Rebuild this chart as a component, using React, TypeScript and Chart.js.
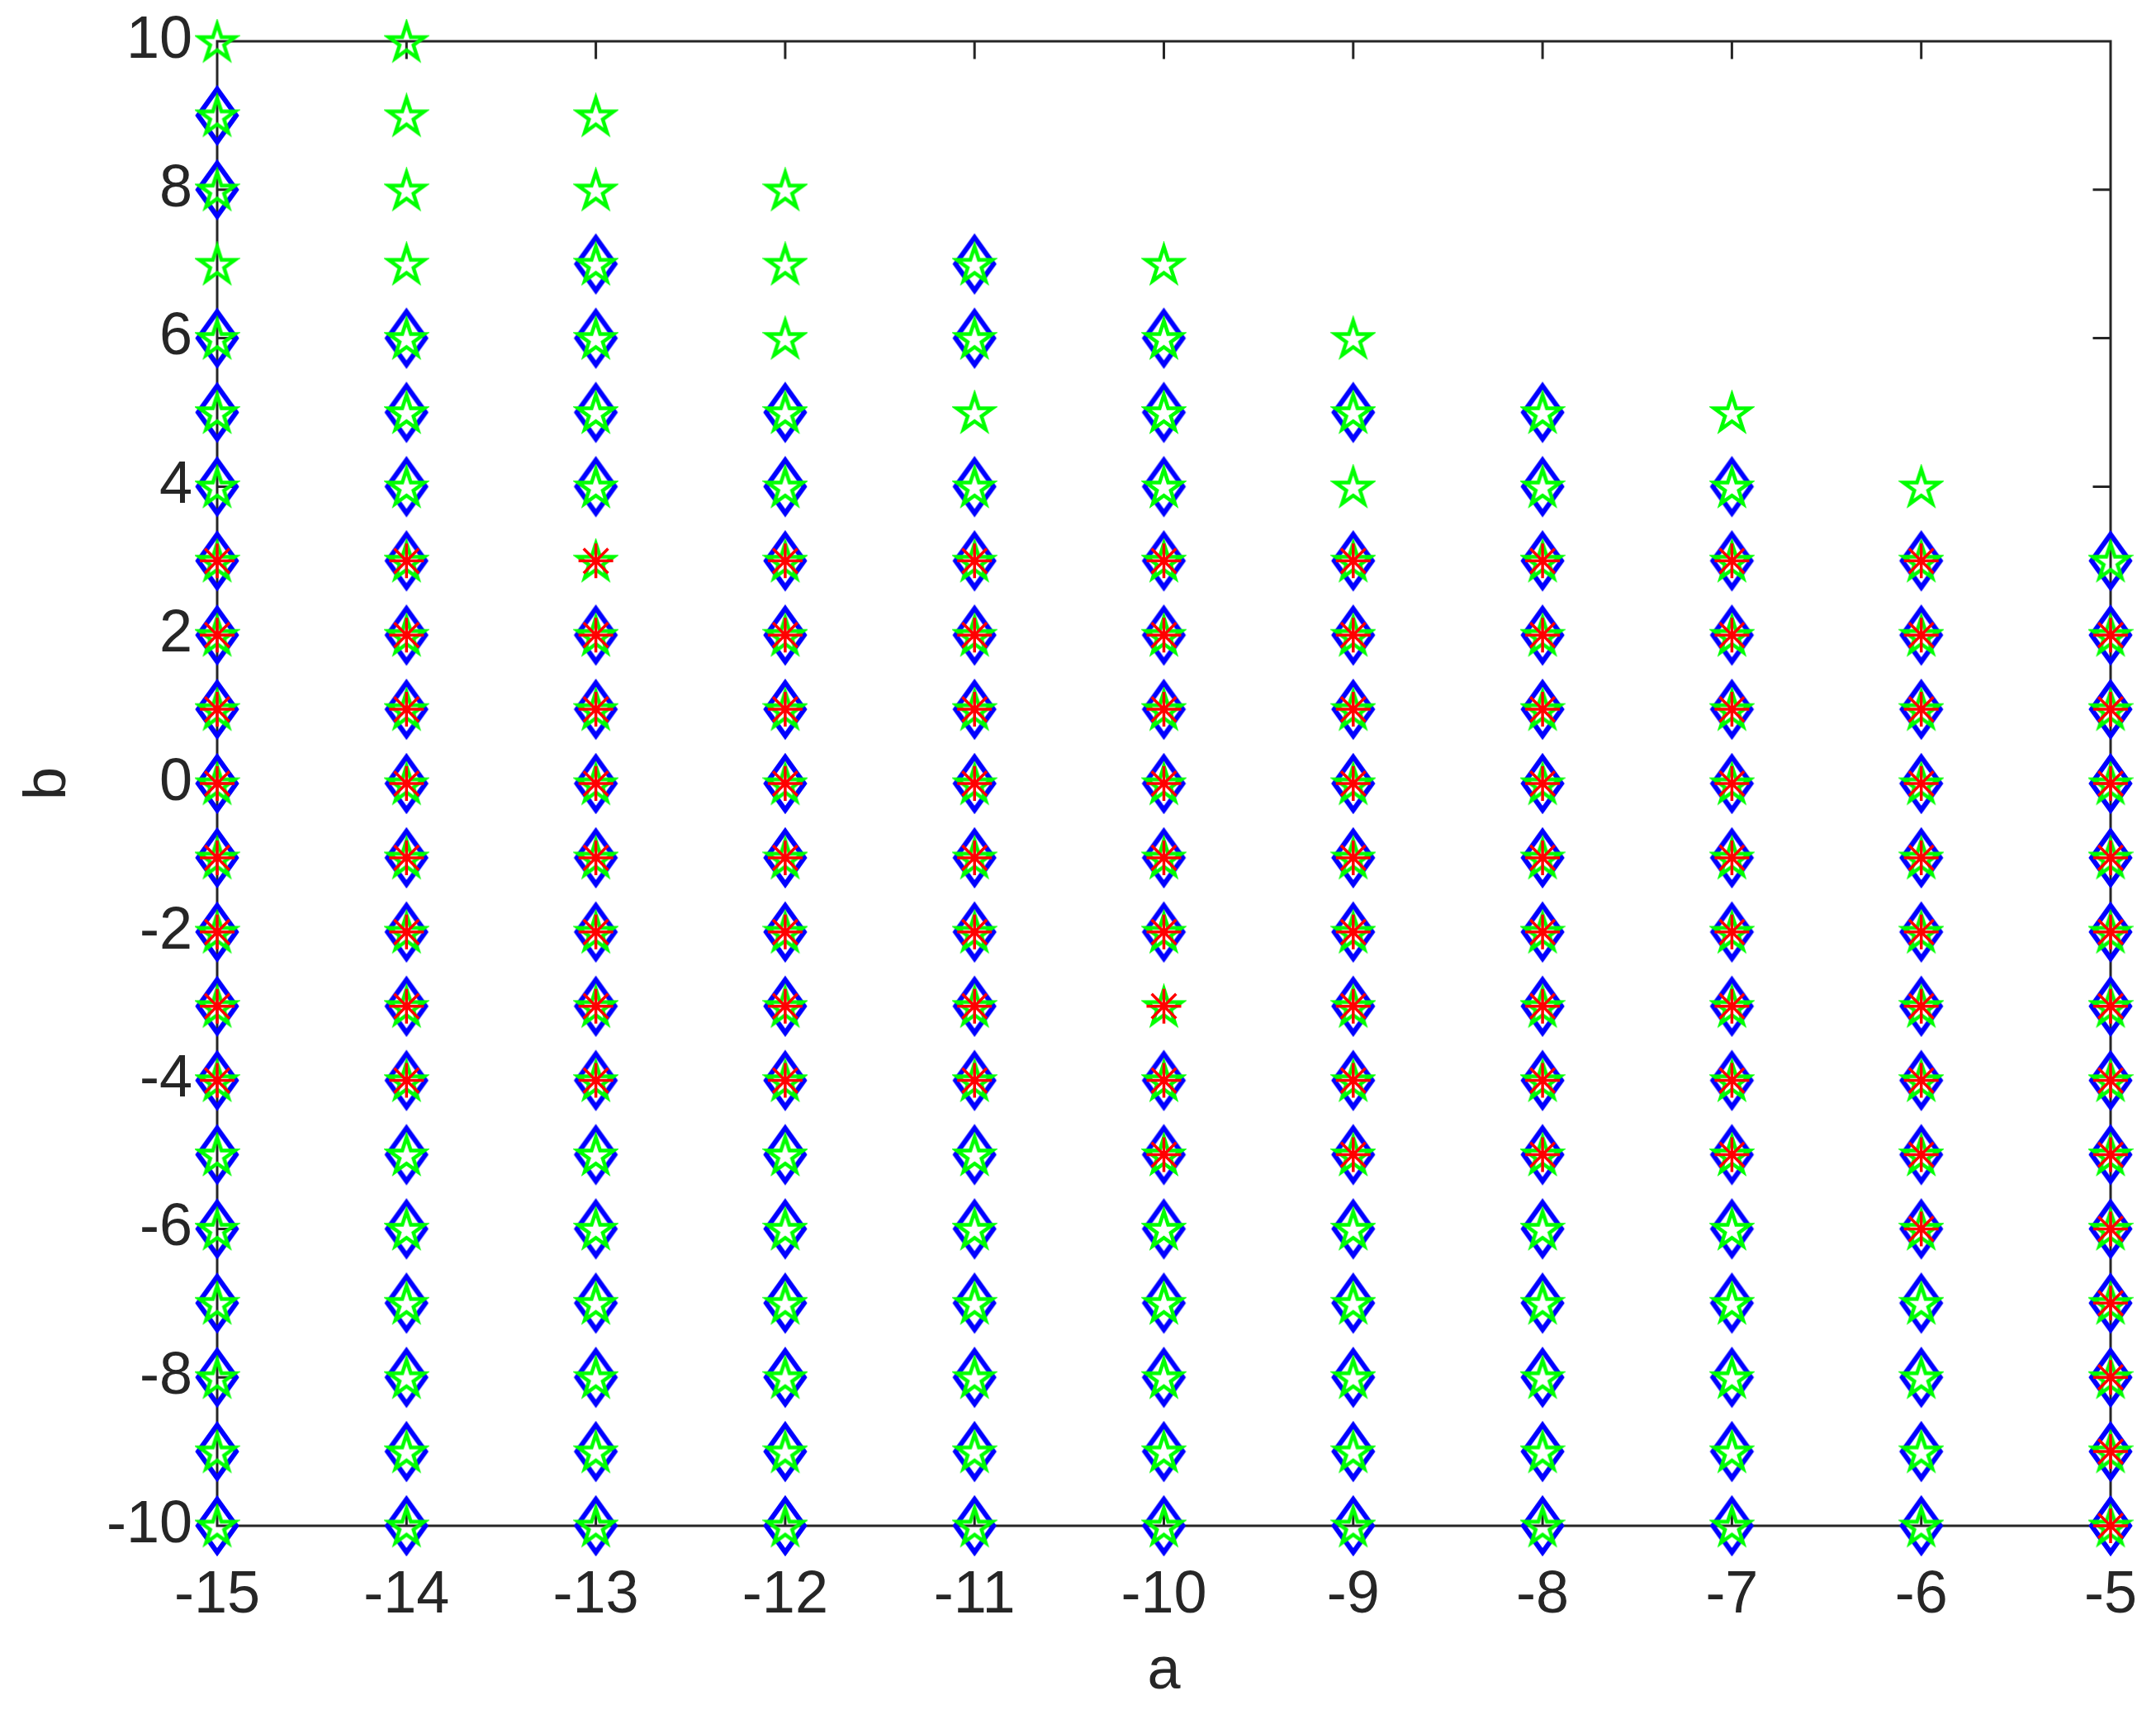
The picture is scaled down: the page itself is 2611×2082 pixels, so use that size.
import React, { useEffect, useRef } from 'react';
import { Chart, registerables } from 'chart.js';

Chart.register(...registerables);

// ---- data ----
const aValues = [-15, -14, -13, -12, -11, -10, -9, -8, -7, -6, -5];

// green pentagrams: b values per column of aValues
const greenB: number[][] = [
  [10, 9, 8, 7, 6, 5, 4, 3, 2, 1, 0, -1, -2, -3, -4, -5, -6, -7, -8, -9, -10],
  [10, 9, 8, 7, 6, 5, 4, 3, 2, 1, 0, -1, -2, -3, -4, -5, -6, -7, -8, -9, -10],
  [9, 8, 7, 6, 5, 4, 3, 2, 1, 0, -1, -2, -3, -4, -5, -6, -7, -8, -9, -10],
  [8, 7, 6, 5, 4, 3, 2, 1, 0, -1, -2, -3, -4, -5, -6, -7, -8, -9, -10],
  [7, 6, 5, 4, 3, 2, 1, 0, -1, -2, -3, -4, -5, -6, -7, -8, -9, -10],
  [7, 6, 5, 4, 3, 2, 1, 0, -1, -2, -3, -4, -5, -6, -7, -8, -9, -10],
  [6, 5, 4, 3, 2, 1, 0, -1, -2, -3, -4, -5, -6, -7, -8, -9, -10],
  [5, 4, 3, 2, 1, 0, -1, -2, -3, -4, -5, -6, -7, -8, -9, -10],
  [5, 4, 3, 2, 1, 0, -1, -2, -3, -4, -5, -6, -7, -8, -9, -10],
  [4, 3, 2, 1, 0, -1, -2, -3, -4, -5, -6, -7, -8, -9, -10],
  [3, 2, 1, 0, -1, -2, -3, -4, -5, -6, -7, -8, -9, -10],
];

// blue diamonds: b values per column
const blueB: number[][] = [
  [9, 8, 6, 5, 4, 3, 2, 1, 0, -1, -2, -3, -4, -5, -6, -7, -8, -9, -10],
  [6, 5, 4, 3, 2, 1, 0, -1, -2, -3, -4, -5, -6, -7, -8, -9, -10],
  [7, 6, 5, 4, 2, 1, 0, -1, -2, -3, -4, -5, -6, -7, -8, -9, -10],
  [5, 4, 3, 2, 1, 0, -1, -2, -3, -4, -5, -6, -7, -8, -9, -10],
  [7, 6, 4, 3, 2, 1, 0, -1, -2, -3, -4, -5, -6, -7, -8, -9, -10],
  [6, 5, 4, 3, 2, 1, 0, -1, -2, -4, -5, -6, -7, -8, -9, -10],
  [5, 3, 2, 1, 0, -1, -2, -3, -4, -5, -6, -7, -8, -9, -10],
  [5, 4, 3, 2, 1, 0, -1, -2, -3, -4, -5, -6, -7, -8, -9, -10],
  [4, 3, 2, 1, 0, -1, -2, -3, -4, -5, -6, -7, -8, -9, -10],
  [3, 2, 1, 0, -1, -2, -3, -4, -5, -6, -7, -8, -9, -10],
  [3, 2, 1, 0, -1, -2, -3, -4, -5, -6, -7, -8, -9, -10],
];

// red asterisks: b values per column
const redB: number[][] = [
  [3, 2, 1, 0, -1, -2, -3, -4],
  [3, 2, 1, 0, -1, -2, -3, -4],
  [3, 2, 1, 0, -1, -2, -3, -4],
  [3, 2, 1, 0, -1, -2, -3, -4],
  [3, 2, 1, 0, -1, -2, -3, -4],
  [3, 2, 1, 0, -1, -2, -3, -4, -5],
  [3, 2, 1, 0, -1, -2, -3, -4, -5],
  [3, 2, 1, 0, -1, -2, -3, -4, -5],
  [3, 2, 1, 0, -1, -2, -3, -4, -5],
  [3, 2, 1, 0, -1, -2, -3, -4, -5, -6],
  [2, 1, 0, -1, -2, -3, -4, -5, -6, -7, -8, -9, -10],
];

const xTickValues = [-15, -14, -13, -12, -11, -10, -9, -8, -7, -6, -5];
const xTickLabels = ['-15', '-14', '-13', '-12', '-11', '-10', '-9', '-8', '-7', '-6', '-5'];
const yTickValues = [-10, -8, -6, -4, -2, 0, 2, 4, 6, 8, 10];
const yTickLabels = ['-10', '-8', '-6', '-4', '-2', '0', '2', '4', '6', '8', '10'];

const xTitle = 'a';
const yTitle = 'b';

// ---- helpers ----
function toPoints(cols: number[][]) {
  const pts: { x: number; y: number }[] = [];
  cols.forEach((bs, i) => bs.forEach((b) => pts.push({ x: aValues[i], y: b })));
  return pts;
}

function makeDiamond(): HTMLCanvasElement {
  const hw = 23, hh = 32, lw = 6;
  const c = document.createElement('canvas');
  c.width = 2 * hw + 2 * lw;
  c.height = 2 * hh + 2 * lw;
  const ctx = c.getContext('2d')!;
  const cx = c.width / 2, cy = c.height / 2;
  ctx.strokeStyle = '#0000ff';
  ctx.lineWidth = lw;
  ctx.lineJoin = 'miter';
  ctx.beginPath();
  ctx.moveTo(cx, cy - hh);
  ctx.lineTo(cx + hw, cy);
  ctx.lineTo(cx, cy + hh);
  ctx.lineTo(cx - hw, cy);
  ctx.closePath();
  ctx.stroke();
  return c;
}

function makePentagram(): HTMLCanvasElement {
  const R = 23, r = R * 0.382, lw = 4.5;
  const size = Math.ceil(2 * R + 2 * lw);
  const c = document.createElement('canvas');
  c.width = size;
  c.height = size;
  const ctx = c.getContext('2d')!;
  const cx = size / 2, cy = size / 2 + 2;
  ctx.strokeStyle = '#00ff00';
  ctx.lineWidth = lw;
  ctx.lineJoin = 'miter';
  ctx.beginPath();
  for (let i = 0; i < 10; i++) {
    const ang = -Math.PI / 2 + (i * Math.PI) / 5;
    const rad = i % 2 === 0 ? R : r;
    const px = cx + rad * Math.cos(ang);
    const py = cy + rad * Math.sin(ang);
    if (i === 0) ctx.moveTo(px, py);
    else ctx.lineTo(px, py);
  }
  ctx.closePath();
  ctx.stroke();
  return c;
}

const AXIS_COLOR = '#262626';
const FONT = { family: '"Liberation Sans", Arial, Helvetica, sans-serif', size: 72 };

const boxPlugin = {
  id: 'matlabBox',
  beforeDatasetsDraw(chart: any) {
    const { ctx, chartArea } = chart;
    const { left, right, top, bottom } = chartArea;
    const xs = chart.scales.x;
    const ys = chart.scales.y;
    const TL = 20;
    ctx.save();
    ctx.strokeStyle = AXIS_COLOR;
    ctx.lineWidth = 3;
    ctx.lineCap = 'square';
    ctx.beginPath();
    ctx.rect(left, top, right - left, bottom - top);
    xs.ticks.forEach((t: any) => {
      const px = xs.getPixelForValue(t.value);
      ctx.moveTo(px, bottom);
      ctx.lineTo(px, bottom - TL);
      ctx.moveTo(px, top);
      ctx.lineTo(px, top + TL);
    });
    ys.ticks.forEach((t: any) => {
      const py = ys.getPixelForValue(t.value);
      ctx.moveTo(left, py);
      ctx.lineTo(left + TL, py);
      ctx.moveTo(right, py);
      ctx.lineTo(right - TL, py);
    });
    ctx.stroke();
    ctx.restore();
  },
};

export default function App() {
  const canvasRef = useRef<HTMLCanvasElement | null>(null);

  useEffect(() => {
    document.body.style.margin = '0';
    document.body.style.overflow = 'hidden';
    const canvas = canvasRef.current;
    if (!canvas) return;
    const diamond = makeDiamond();
    const pentagram = makePentagram();

    const chart = new Chart(canvas, {
      type: 'scatter',
      data: {
        datasets: [
          {
            label: 'red',
            data: toPoints(redB),
            order: 0,
            pointStyle: 'star',
            pointRadius: 21,
            pointHoverRadius: 21,
            pointBorderWidth: 3.5,
            pointBorderColor: '#ff0000',
            pointBackgroundColor: 'rgba(0,0,0,0)',
            clip: false,
          } as any,
          {
            label: 'green',
            data: toPoints(greenB),
            order: 1,
            pointStyle: pentagram,
            pointRadius: 22,
            pointHoverRadius: 22,
            clip: false,
          } as any,
          {
            label: 'blue',
            data: toPoints(blueB),
            order: 2,
            pointStyle: diamond,
            pointRadius: 30,
            pointHoverRadius: 30,
            clip: false,
          } as any,
        ],
      },
      options: {
        responsive: false,
        animation: false,
        events: [],
        layout: { padding: { left: 0, top: 50, right: 55, bottom: 0 } },
        plugins: {
          legend: { display: false },
          tooltip: { enabled: false },
        },
        scales: {
          x: {
            type: 'linear',
            position: 'bottom',
            min: -15,
            max: -5,
            grid: { display: false },
            border: { display: false },
            afterBuildTicks: (scale: any) => {
              scale.ticks = xTickValues.map((v) => ({ value: v }));
            },
            afterFit: (scale: any) => {
              scale.height = 234;
              scale.paddingLeft = 0;
              scale.paddingRight = 0;
            },
            ticks: {
              color: AXIS_COLOR,
              font: FONT,
              padding: 34,
              maxRotation: 0,
              autoSkip: false,
              callback: (value: any) => {
                const i = xTickValues.indexOf(Number(value));
                return i >= 0 ? xTickLabels[i] : '';
              },
            },
            title: {
              display: true,
              text: xTitle,
              color: AXIS_COLOR,
              font: FONT,
              padding: { top: 0, bottom: 14 },
            },
          },
          y: {
            type: 'linear',
            position: 'left',
            min: -10,
            max: 10,
            grid: { display: false },
            border: { display: false },
            afterBuildTicks: (scale: any) => {
              scale.ticks = yTickValues.map((v) => ({ value: v }));
            },
            afterFit: (scale: any) => {
              scale.width = 263;
              scale.paddingTop = 0;
              scale.paddingBottom = 0;
            },
            ticks: {
              color: AXIS_COLOR,
              font: FONT,
              padding: 22,
              autoSkip: false,
              callback: (value: any) => {
                const i = yTickValues.indexOf(Number(value));
                return i >= 0 ? yTickLabels[i] : '';
              },
            },
            title: {
              display: true,
              text: yTitle,
              color: AXIS_COLOR,
              font: FONT,
              padding: { top: 16, bottom: 0 },
            },
          },
        },
      },
      plugins: [boxPlugin],
    } as any);

    return () => {
      chart.destroy();
    };
  }, []);

  return (
    <div style={{ width: 2611, height: 2082, background: '#ffffff' }}>
      <canvas ref={canvasRef} width={2611} height={2082} style={{ display: 'block' }} />
    </div>
  );
}
